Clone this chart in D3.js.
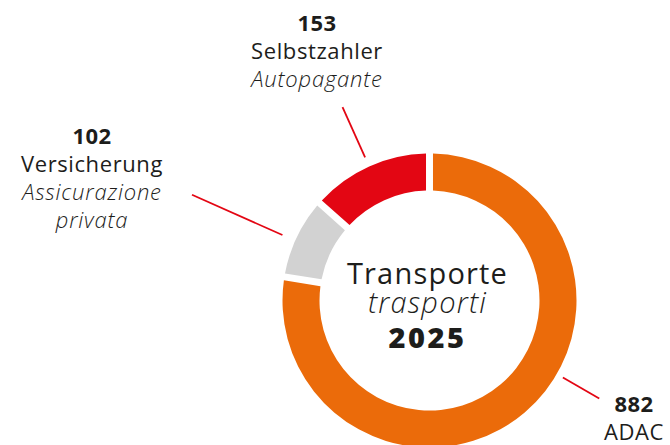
<!DOCTYPE html>
<html>
<head>
<meta charset="utf-8">
<script src="https://cdn.jsdelivr.net/npm/d3@7"></script>
<style>
  html, body { margin: 0; padding: 0; background: #fff; }
  svg { display: block; }
  text { font-family: "Open Sans", "Noto Sans", sans-serif; fill: #1d1d1b; }
</style>
</head>
<body>
<svg id="chart" width="670" height="445"></svg>
<script>
// Transporte 2025 - donut
const categories = ["ADAC", "Versicherung", "Selbstzahler"];
const categoriesIt = [null, "Assicurazione\nprivata", "Autopagante"];
const values = [882, 102, 153];
const colors = ["#eb6b0a", "#d2d2d2", "#e30613"];

const width = 670, height = 445;
const cx = 429.5, cy = 300.5;
const outerR = 147, innerR = 110;

// label layout: angle of leader (deg, clockwise from top; null = slice middle), leader radii, text anchor point
const labelLayout = [
  { angle: 120, r0: 154, r1: 196, x: 634, y: 412 },
  { angle: 294, r0: 161, r1: 260, x: 92, y: 144 },
  { angle: null, r0: 157, r1: 212, x: 317, y: 31 }
];

const svg = d3.select("#chart");
const g = svg.append("g").attr("transform", `translate(${cx},${cy})`);

const pie = d3.pie().sort(null).value(d => d);
const arcs = pie(values);

const arc = d3.arc()
    .innerRadius(innerR)
    .outerRadius(outerR)
    .padAngle(0.038);

g.selectAll("path.slice")
    .data(arcs)
    .join("path")
    .attr("class", "slice")
    .attr("d", arc)
    .attr("fill", (d, i) => colors[i]);

// leader lines
const rad = a => a * Math.PI / 180;
g.selectAll("line.leader")
    .data(arcs)
    .join("line")
    .attr("class", "leader")
    .each(function (d, i) {
        const L = labelLayout[i];
        const a = L.angle == null ? (d.startAngle + d.endAngle) / 2 : rad(L.angle);
        d3.select(this)
            .attr("x1", Math.sin(a) * L.r0).attr("y1", -Math.cos(a) * L.r0)
            .attr("x2", Math.sin(a) * L.r1).attr("y2", -Math.cos(a) * L.r1);
    })
    .attr("stroke", "#e30613")
    .attr("stroke-width", 1.8);

// labels
const lh = 28;
arcs.forEach((d, i) => {
    const L = labelLayout[i];
    const t = svg.append("text")
        .attr("x", L.x).attr("y", L.y)
        .attr("text-anchor", "middle");
    t.append("tspan").attr("x", L.x).attr("font-weight", 700).attr("font-size", 22)
        .attr("letter-spacing", 0.5)
        .text(values[i]);
    t.append("tspan").attr("x", L.x).attr("dy", lh).attr("font-weight", 400).attr("font-size", 22)
        .attr("letter-spacing", 0.6)
        .text(categories[i]);
    if (categoriesIt[i]) {
        categoriesIt[i].split("\n").forEach(line => {
            t.append("tspan").attr("x", L.x).attr("dy", lh)
                .attr("font-weight", 300).attr("font-style", "italic").attr("font-size", 22)
                .attr("letter-spacing", 0.8)
                .text(line);
        });
    }
});

// center title
const c = g.append("text").attr("text-anchor", "middle");
c.append("tspan").attr("x", -2).attr("y", -17).attr("font-size", 29).attr("font-weight", 400)
    .attr("letter-spacing", 1.2).text("Transporte");
c.append("tspan").attr("x", -2).attr("y", 12).attr("font-size", 29).attr("font-weight", 300).attr("font-style", "italic")
    .attr("letter-spacing", 1.2).text("trasporti");
c.append("tspan").attr("x", -2).attr("y", 47).attr("font-size", 29).attr("font-weight", 800)
    .attr("letter-spacing", 2.5).text("2025");
</script>
</body>
</html>
